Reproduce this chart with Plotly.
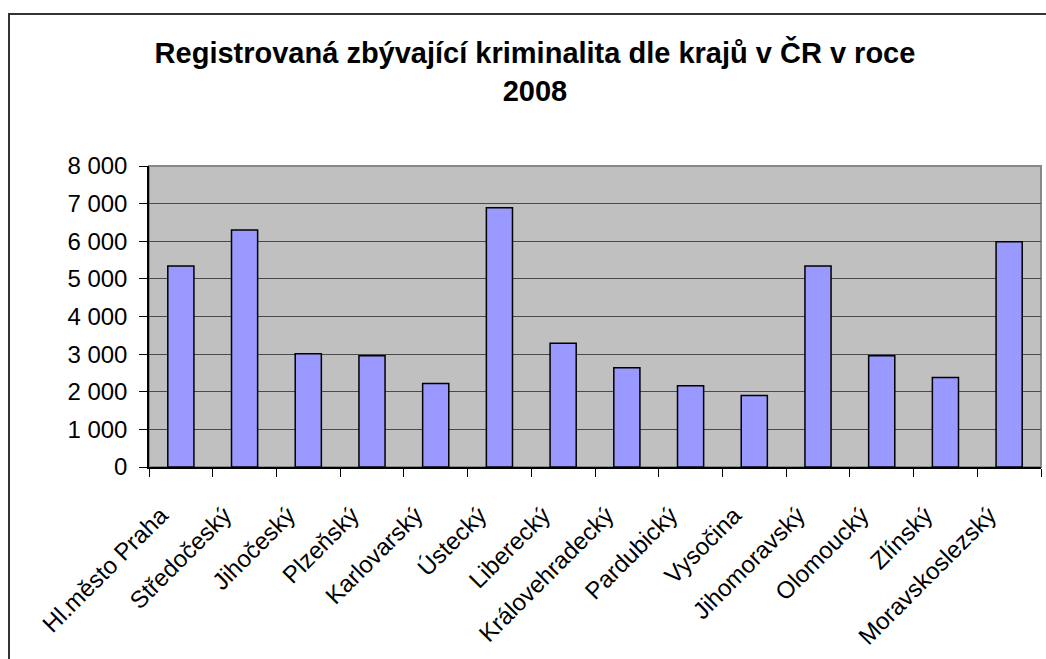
import plotly.graph_objects as go

categories = ["Hl.město Praha", "Středočeský", "Jihočeský", "Plzeňský", "Karlovarský",
              "Ústecký", "Liberecký", "Královehradecký", "Pardubický", "Vysočina",
              "Jihomoravský", "Olomoucký", "Zlínský", "Moravskoslezský"]
values = [5340, 6300, 3010, 2960, 2220, 6890, 3290, 2640, 2160, 1900, 5340, 2960, 2380, 5990]
y_ticks = [0, 1000, 2000, 3000, 4000, 5000, 6000, 7000, 8000]
title_text = "Registrovaná zbývající kriminalita dle krajů v ČR v roce<br>2008"

W, H = 1046, 659
L, R, T, B = 149, 1041, 166, 467
pw, ph = R - L, B - T

fig = go.Figure(go.Bar(
    x=categories, y=values,
    marker=dict(color="#9999FF", line=dict(color="#000000", width=1.5)),
))

def px(x):
    return (x - L) / pw

def py(y):
    return (B - y) / ph

fig.update_layout(
    width=W, height=H,
    margin=dict(l=L, r=W - R, t=T, b=H - B, pad=0),
    paper_bgcolor="white",
    plot_bgcolor="#C0C0C0",
    bargap=0.59,
    separators=", ",
    showlegend=False,
    font=dict(family="Liberation Sans, Arial, sans-serif", color="black"),
    title=dict(
        text=title_text,
        x=535 / W, xanchor="center",
        y=1 - 63 / H, yanchor="middle",
        font=dict(size=29, family="Liberation Sans, Arial, sans-serif", color="black", weight="bold"),
    ),
    xaxis=dict(
        tickangle=-45,
        tickfont=dict(size=24),
        showline=True, linecolor="#000000", linewidth=1.5,
        ticks="outside", ticklen=8, tickcolor="#000000", tickwidth=1,
        tickson="boundaries",
        ticklabelshift=-20, ticklabelstandoff=23,
        showgrid=False,
    ),
    yaxis=dict(
        range=[0, 8000],
        tickvals=y_ticks,
        tickformat=",d",
        tickfont=dict(size=24),
        showline=True, linecolor="#000000", linewidth=1.5,
        ticks="outside", ticklen=8, tickcolor="#000000", tickwidth=1,
        ticklabelstandoff=7,
        showgrid=True, gridcolor="#4a4a4a", gridwidth=1.3,
        zeroline=False,
    ),
    shapes=[
        dict(type="rect", xref="paper", yref="paper",
             x0=0, x1=1, y0=0, y1=1,
             line=dict(color="#888888", width=2), layer="below"),
        dict(type="rect", xref="paper", yref="paper",
             x0=px(9), x1=px(1060), y0=py(14), y1=py(700),
             line=dict(color="#333333", width=2), fillcolor="rgba(0,0,0,0)"),
    ],
)

fig.write_html("out.html", config={"displayModeBar": False},
               post_script="document.body.style.margin='0';")
